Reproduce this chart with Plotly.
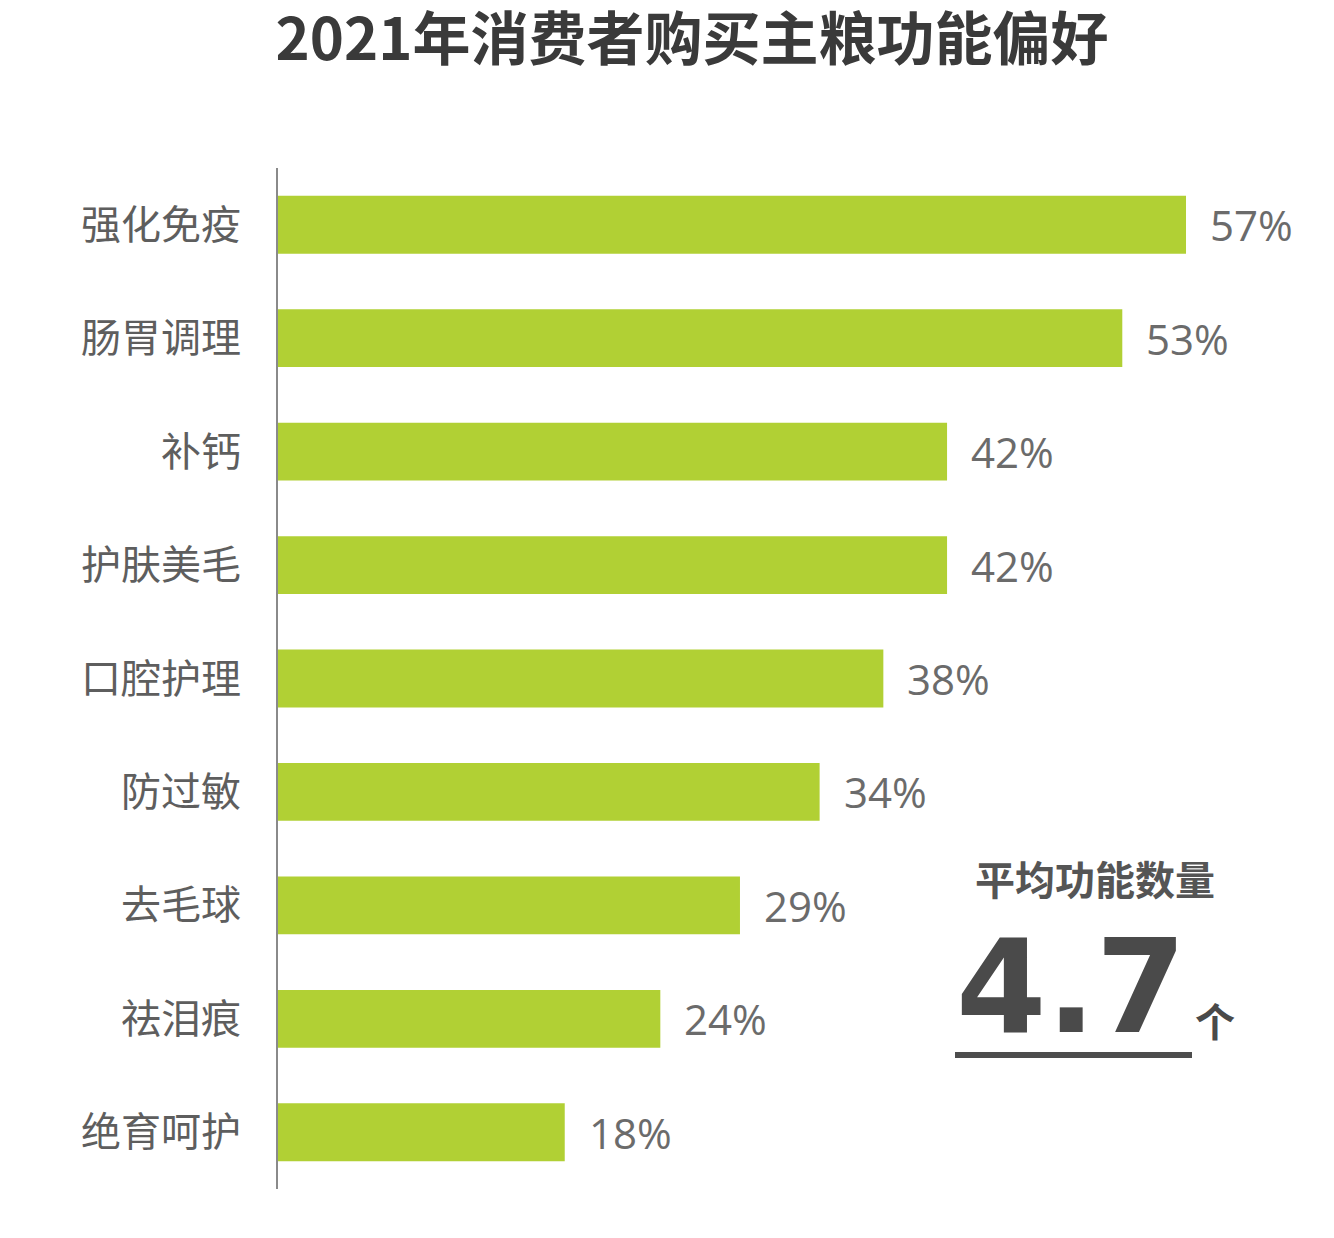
import plotly.graph_objects as go

categories = ["强化免疫", "肠胃调理", "补钙", "护肤美毛", "口腔护理", "防过敏", "去毛球", "祛泪痕", "绝育呵护"]
values = [57, 53, 42, 42, 38, 34, 29, 24, 18]
value_labels = ["57%", "53%", "42%", "42%", "38%", "34%", "29%", "24%", "18%"]
title_text = "2021年消费者购买主粮功能偏好"
avg_label = "平均功能数量"
avg_value = "4.7"
avg_unit = "个"

W, H = 1334, 1238
L, R, T, B = 278, 14, 168, 49
pw, ph = W - L - R, H - T - B

def px(x):
    return (x - L) / pw

def py(y):
    return (H - B - y) / ph

CJK = "Noto Sans CJK SC, Open Sans, sans-serif"
NUM = "Open Sans, Noto Sans CJK SC, sans-serif"

fig = go.Figure()
fig.add_trace(go.Bar(
    x=values, y=categories, orientation="h",
    marker=dict(color="#B1D034", line=dict(width=0)),
    hoverinfo="skip",
))

annotations = []
for c, v, t in zip(categories, values, value_labels):
    annotations.append(dict(
        x=v, y=c, xref="x", yref="y", text=t, showarrow=False,
        xanchor="left", yanchor="middle", xshift=22,
        font=dict(family=NUM, size=42, color="#6b6b6b"),
    ))

annotations += [
    dict(x=px(1095), y=py(878), xref="paper", yref="paper", text="<b>" + avg_label + "</b>",
         showarrow=False, xanchor="center", yanchor="middle",
         font=dict(family=CJK, size=40, color="#555555")),
    dict(x=px(1071), y=py(987), xref="paper", yref="paper", text="<b>" + avg_value + "</b>",
         showarrow=False, xanchor="center", yanchor="middle",
         font=dict(family="DejaVu Sans, sans-serif", size=130, color="#4a4a4a")),
    dict(x=px(1215), y=py(1020), xref="paper", yref="paper", text="<b>" + avg_unit + "</b>",
         showarrow=False, xanchor="center", yanchor="middle",
         font=dict(family=CJK, size=40, color="#4a4a4a")),
]

fig.add_shape(type="line", xref="paper", yref="paper",
              x0=px(955), x1=px(1192), y0=py(1055), y1=py(1055),
              line=dict(color="#4d4d4d", width=6))

fig.update_layout(
    width=W, height=H,
    margin=dict(l=L, r=R, t=T, b=B),
    paper_bgcolor="white", plot_bgcolor="white",
    showlegend=False,
    bargap=0.49,
    title=dict(text="<b>" + title_text + "</b>", x=692 / W, xref="container",
               y=1 - 40 / H, yref="container", xanchor="center", yanchor="middle",
               font=dict(family=CJK, size=58, color="#3a3a3a")),
    annotations=annotations,
    xaxis=dict(range=[0, pw / 15.93], showgrid=False, zeroline=False,
               showticklabels=False, showline=False, ticks=""),
    yaxis=dict(autorange=False, range=[8.5, -0.5], showgrid=False, zeroline=False,
               showline=True, linecolor="#8a8a8a", linewidth=2, ticks="",
               ticklabelstandoff=27,
               tickfont=dict(family=CJK, size=40, color="#5e5e5e")),
)

fig.write_html("out.html")
